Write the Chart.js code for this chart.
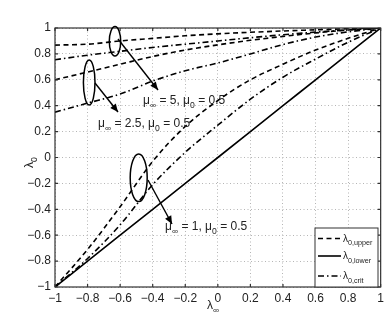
<!DOCTYPE html>
<html>
<head>
<meta charset="utf-8">
<script src="https://cdn.jsdelivr.net/npm/chart.js@4"></script>
<style>
  html, body { margin: 0; padding: 0; background: #fff; }
  canvas { display: block; }
</style>
</head>
<body>
<canvas id="c" width="388" height="319"></canvas>
<script>
// Data
const lambdaInf = [-1, -0.8, -0.6, -0.4, -0.2, 0, 0.2, 0.4, 0.6, 0.8, 1];

const upperMu5  = [0.868, 0.875, 0.90, 0.92, 0.94, 0.955, 0.967, 0.977, 0.986, 0.994, 1];
const upperMu25 = [0.60, 0.66, 0.72, 0.78, 0.83, 0.87, 0.905, 0.935, 0.962, 0.985, 1];
const upperMu1  = [-1, -0.71, -0.38, -0.03, 0.24, 0.44, 0.60, 0.72, 0.83, 0.92, 1];

const critMu5  = [0.755, 0.79, 0.82, 0.85, 0.875, 0.90, 0.925, 0.948, 0.968, 0.985, 1];
const critMu25 = [0.35, 0.42, 0.49, 0.59, 0.67, 0.73, 0.80, 0.872, 0.93, 0.97, 1];
const critMu1  = [-1, -0.78, -0.52, -0.21, 0.04, 0.25, 0.45, 0.62, 0.76, 0.89, 1];

const lower = [-1, -0.8, -0.6, -0.4, -0.2, 0, 0.2, 0.4, 0.6, 0.8, 1];

const tickValues = [-1, -0.8, -0.6, -0.4, -0.2, 0, 0.2, 0.4, 0.6, 0.8, 1];

const DASH = [5, 3.5];
const DASHDOT = [6, 3, 1.5, 3];
const FONT = '"Liberation Sans", Arial, sans-serif';

function pts(ys) { return lambdaInf.map((x, i) => ({ x: x, y: ys[i] })); }
function line(ys, dash) {
  return { data: pts(ys), borderColor: '#000', borderWidth: 1.6, borderDash: dash,
           pointRadius: 0, showLine: true, fill: false, cubicInterpolationMode: 'monotone' };
}
function fmt(v) {
  const s = (Math.round(v * 10) / 10).toString();
  return s.replace('-', '\u2212');
}

// draw text with sub/superscripts: parts = [[text, 'n'|'sub'], ...]
function rich(ctx, parts, x, y, size) {
  let cx = x;
  parts.forEach(([t, kind]) => {
    const fs = kind === 'sub' ? size * 0.72 : size;
    const dy = kind === 'sub' ? size * 0.35 : 0;
    ctx.font = fs + 'px ' + FONT;
    ctx.fillText(t, cx, y + dy);
    cx += ctx.measureText(t).width;
  });
}

function ellipse(ctx, cx, cy, rx, ry) {
  ctx.beginPath();
  ctx.ellipse(cx, cy, rx, ry, 0, 0, Math.PI * 2);
  ctx.stroke();
}
function arrow(ctx, x1, y1, x2, y2) {
  ctx.beginPath();
  ctx.moveTo(x1, y1); ctx.lineTo(x2, y2); ctx.stroke();
  const a = Math.atan2(y2 - y1, x2 - x1), L = 8, W = 3.5;
  ctx.beginPath();
  ctx.moveTo(x2, y2);
  ctx.lineTo(x2 - L * Math.cos(a) + W * Math.sin(a), y2 - L * Math.sin(a) - W * Math.cos(a));
  ctx.lineTo(x2 - L * Math.cos(a) - W * Math.sin(a), y2 - L * Math.sin(a) + W * Math.cos(a));
  ctx.closePath(); ctx.fill();
}

const decor = {
  id: 'decor',
  beforeDraw(chart) {
    const ctx = chart.ctx;
    ctx.save(); ctx.fillStyle = '#fff';
    ctx.fillRect(0, 0, chart.width, chart.height); ctx.restore();
  },
  afterDraw(chart) {
    const ctx = chart.ctx, a = chart.chartArea;
    const xs = chart.scales.x, ys = chart.scales.y;
    ctx.save();
    // frame and inward ticks
    ctx.strokeStyle = '#333'; ctx.lineWidth = 1.2; ctx.setLineDash([]);
    ctx.strokeRect(a.left, a.top, a.right - a.left, a.bottom - a.top);
    ctx.beginPath();
    tickValues.forEach(v => {
      const px = xs.getPixelForValue(v), py = ys.getPixelForValue(v);
      ctx.moveTo(px, a.bottom); ctx.lineTo(px, a.bottom - 3);
      ctx.moveTo(px, a.top); ctx.lineTo(px, a.top + 3);
      ctx.moveTo(a.left, py); ctx.lineTo(a.left + 3, py);
      ctx.moveTo(a.right, py); ctx.lineTo(a.right - 3, py);
    });
    ctx.stroke();

    // ellipses and arrows
    ctx.strokeStyle = '#000'; ctx.fillStyle = '#000'; ctx.lineWidth = 1.5;
    ellipse(ctx, 115, 41.3, 5.7, 14.7);
    ellipse(ctx, 89.2, 82.5, 5.8, 22.5);
    ellipse(ctx, 138.7, 177.8, 8.5, 23.8);
    ctx.lineWidth = 1.4;
    arrow(ctx, 118, 39, 158, 90);
    arrow(ctx, 95, 83, 118, 112);
    arrow(ctx, 148, 180, 172, 224);

    // labels
    ctx.fillStyle = '#222'; ctx.textBaseline = 'alphabetic'; ctx.textAlign = 'left';
    rich(ctx, [['\u03bc', 'n'], ['\u221e', 'sub'], [' = 5, \u03bc', 'n'], ['0', 'sub'], [' = 0.5', 'n']], 143, 103.5, 12);
    rich(ctx, [['\u03bc', 'n'], ['\u221e', 'sub'], [' = 2.5, \u03bc', 'n'], ['0', 'sub'], [' = 0.5', 'n']], 98, 127, 12);
    rich(ctx, [['\u03bc', 'n'], ['\u221e', 'sub'], [' = 1, \u03bc', 'n'], ['0', 'sub'], [' = 0.5', 'n']], 165, 230, 12);

    // axis titles
    rich(ctx, [['\u03bb', 'n'], ['\u221e', 'sub']], 207, 309, 12);
    ctx.save();
    ctx.translate(33, 168); ctx.rotate(-Math.PI / 2);
    rich(ctx, [['\u03bb', 'n'], ['0', 'sub']], 0, 0, 12);
    ctx.restore();

    // legend
    const lx = 315, ly = 228, lw = 63, lh = 59;
    ctx.fillStyle = '#fff'; ctx.fillRect(lx, ly, lw, lh);
    ctx.strokeStyle = '#333'; ctx.lineWidth = 1; ctx.setLineDash([]);
    ctx.strokeRect(lx, ly, lw, lh);
    const entries = [[DASH, 'upper', 238.5], [[], 'lower', 256], [DASHDOT, 'crit', 276]];
    entries.forEach(([dash, name, y]) => {
      ctx.strokeStyle = '#000'; ctx.lineWidth = 1.6; ctx.setLineDash(dash);
      ctx.beginPath(); ctx.moveTo(318, y); ctx.lineTo(341, y); ctx.stroke();
      ctx.setLineDash([]);
      ctx.fillStyle = '#222';
      rich(ctx, [['\u03bb', 'n'], ['0,' + name, 'sub']], 343, y + 3, 10);
    });
    ctx.restore();
  }
};

const tickOpts = (pad) => ({
  color: '#222', font: { family: FONT, size: 12 }, padding: pad,
  autoSkip: false, maxRotation: 0, callback: fmt
});

new Chart(document.getElementById('c'), {
  type: 'scatter',
  data: {
    datasets: [
      line(upperMu5, DASH), line(upperMu25, DASH), line(upperMu1, DASH),
      line(critMu5, DASHDOT), line(critMu25, DASHDOT), line(critMu1, DASHDOT),
      line(lower, [])
    ]
  },
  options: {
    responsive: false, animation: false, devicePixelRatio: 1,
    layout: { padding: { left: 0, top: 28, right: 6, bottom: 0 } },
    plugins: { legend: { display: false }, tooltip: { enabled: false } },
    scales: {
      x: {
        type: 'linear', min: -1, max: 1,
        afterBuildTicks: s => { s.ticks = tickValues.map(v => ({ value: v })); },
        afterFit: s => { s.height = 32; },
        ticks: tickOpts(4),
        grid: { color: '#b5b5b5', lineWidth: 1, drawTicks: false },
        border: { display: false, dash: [1, 2.5] }
      },
      y: {
        type: 'linear', min: -1, max: 1,
        afterBuildTicks: s => { s.ticks = tickValues.map(v => ({ value: v })); },
        afterFit: s => { s.width = 55; },
        ticks: tickOpts(4),
        grid: { color: '#b5b5b5', lineWidth: 1, drawTicks: false },
        border: { display: false, dash: [1, 2.5] }
      }
    }
  },
  plugins: [decor]
});
</script>
</body>
</html>
